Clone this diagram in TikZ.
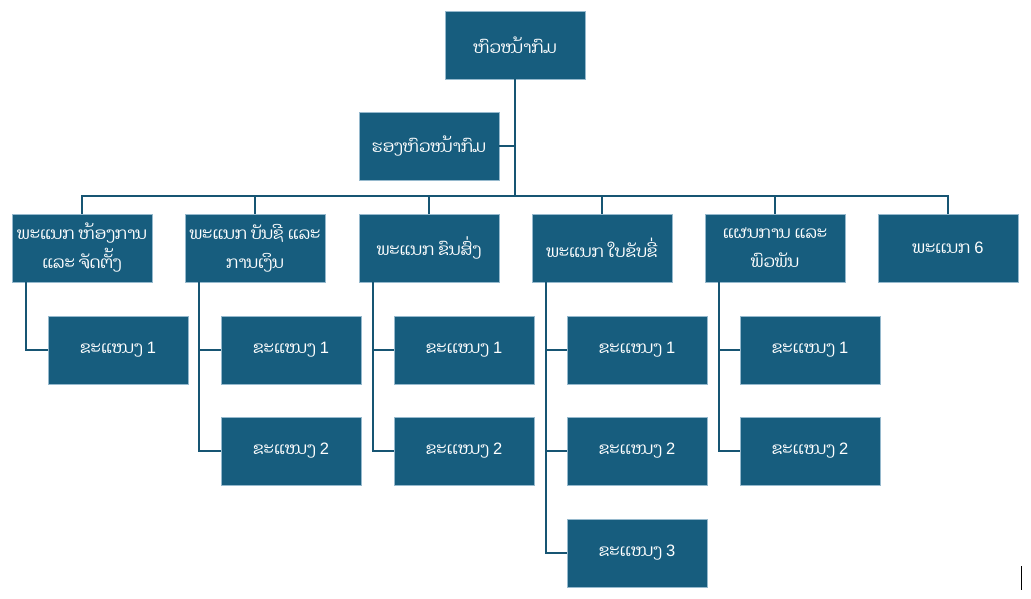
\documentclass[tikz,border=0pt]{standalone}
\usepackage{fontspec}
\newfontfamily\laofont[Script=Lao]{Dhyana}
\newfontfamily\numfont{Liberation Sans}
\newcommand{\nm}[1]{{\numfont #1}}
\begin{document}
\begin{tikzpicture}[x=1pt,y=-1pt,
  box/.style={draw={rgb,255:red,150;green,185;blue,205}, line width=0.6pt, fill={rgb,255:red,23;green,93;blue,126}, text=white,
    minimum width=140pt, minimum height=68pt, inner sep=2pt, align=center, font=\laofont\fontsize{16.5}{29}\selectfont},
  link/.style={draw={rgb,255:red,23;green,85;blue,115}, line width=1.2pt}]
\useasboundingbox (0,0) rectangle (1031,598);
\node[box] (head) at (515,45) {ຫົວໜ້າກົມ};
\node[box] (dep) at (429,146) {ຮອງຫົວໜ້າກົມ};
\node[box] (d1) at (82,248) {ພະແນກ ຫ້ອງການ\\ແລະ ຈັດຕັ້ງ};
\node[box] (d2) at (255,248) {ພະແນກ ບັນຊີ ແລະ\\ການເງິນ};
\node[box] (d3) at (429,248) {ພະແນກ ຂົນສົ່ງ};
\node[box] (d4) at (602,248) {ພະແນກ ໃບຂັບຂີ່};
\node[box] (d5) at (775,248) {ແຜນການ ແລະ\\ພົວພັນ};
\node[box] (d6) at (948,248) {ພະເເນກ \nm{6}};
\node[box] (s11) at (118,350) {ຂະແໜງ \nm{1}};
\node[box] (s21) at (291,350) {ຂະແໜງ \nm{1}};
\node[box] (s22) at (291,451) {ຂະແໜງ \nm{2}};
\node[box] (s31) at (464,350) {ຂະເເໜງ \nm{1}};
\node[box] (s32) at (464,451) {ຂະເເໜງ \nm{2}};
\node[box] (s41) at (637,350) {ຂະເເໜງ \nm{1}};
\node[box] (s42) at (637,451) {ຂະເເໜງ \nm{2}};
\node[box] (s43) at (637,553) {ຂະເເໜງ \nm{3}};
\node[box] (s51) at (810,350) {ຂະເເໜງ \nm{1}};
\node[box] (s52) at (810,451) {ຂະເເໜງ \nm{2}};
\coordinate (bus) at (515,196);
% trunk and bus
\draw[link] (head.south) -- (bus);
\draw[link] (dep.east) -- (head.south |- dep.east);
\draw[link] (d1.north) |- (bus) -| (d6.north);
\foreach \d in {d2,d3,d4,d5} \draw[link] (\d.north) -- (\d.north |- bus);
% rails
\draw[link] ([xshift=-56pt]d1.south) |- (s11.west);
\draw[link] ([xshift=-56pt]d2.south) |- (s22.west);
\draw[link] ([xshift=-56pt]d2.south |- s21.west) -- (s21.west);
\draw[link] ([xshift=-56pt]d3.south) |- (s32.west);
\draw[link] ([xshift=-56pt]d3.south |- s31.west) -- (s31.west);
\draw[link] ([xshift=-56pt]d4.south) |- (s43.west);
\draw[link] ([xshift=-56pt]d4.south |- s41.west) -- (s41.west);
\draw[link] ([xshift=-56pt]d4.south |- s42.west) -- (s42.west);
\draw[link] ([xshift=-56pt]d5.south) |- (s52.west);
\draw[link] ([xshift=-56pt]d5.south |- s51.west) -- (s51.west);
\draw[line width=1pt] (1021,566) -- (1021,590);
\end{tikzpicture}
\end{document}
